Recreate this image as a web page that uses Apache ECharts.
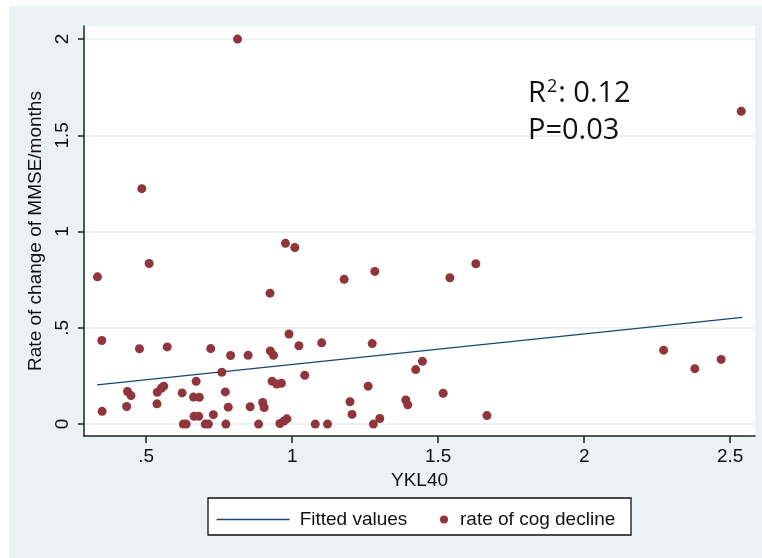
<!DOCTYPE html>
<html>
<head>
<meta charset="utf-8">
<script src="https://cdn.jsdelivr.net/npm/echarts@6/dist/echarts.min.js"></script>
<style>
html,body{margin:0;padding:0;background:#fff;}
#chart{width:762px;height:558px;}
</style>
</head>
<body>
<div id="chart"></div>
<script>
// Scatter points: YKL40 (x) vs rate of cognitive decline (y)
var pointsX = [0.813,2.538,0.485,0.510,0.333,0.977,1.009,1.178,1.283,1.540,1.629,0.924,
  0.348,0.477,0.572,0.721,0.789,0.849,0.925,0.936,0.989,1.023,1.101,1.274,
  0.759,0.671,1.043,0.931,0.947,0.963,1.260,1.423,1.446,2.272,2.379,2.469,
  1.517,1.667,0.436,0.448,0.433,0.349,0.538,0.552,0.560,0.537,0.623,0.662,
  0.682,0.771,0.781,0.856,0.899,0.904,0.664,0.680,0.730,0.627,0.637,0.702,
  0.713,0.773,0.885,0.958,0.972,0.982,1.079,1.121,1.198,1.205,1.278,1.300,
  1.389,1.396];
var pointsY = [2.000,1.625,1.223,0.834,0.765,0.939,0.917,0.752,0.793,0.760,0.833,0.680,
  0.434,0.391,0.401,0.392,0.356,0.357,0.380,0.357,0.468,0.407,0.422,0.418,
  0.269,0.222,0.253,0.223,0.208,0.212,0.197,0.283,0.326,0.384,0.288,0.336,
  0.160,0.044,0.169,0.148,0.091,0.066,0.165,0.186,0.197,0.105,0.162,0.140,
  0.139,0.167,0.088,0.090,0.112,0.086,0.040,0.040,0.049,0.000,0.000,0.000,
  0.000,0.000,0.000,0.003,0.016,0.027,0.000,0.000,0.116,0.050,0.000,0.029,
  0.125,0.100];
// Fitted values line (endpoints)
var fitX = [0.332, 2.542];
var fitY = [0.204, 0.554];
// Axis ticks
var xTicks = [0.5, 1, 1.5, 2, 2.5];
var xTickLabels = ['.5', '1', '1.5', '2', '2.5'];
var yTicks = [0, 0.5, 1, 1.5, 2];
var yTickLabels = ['0', '.5', '1', '1.5', '2'];
var seriesNames = ['Fitted values', 'rate of cog decline'];
var xTitle = 'YKL40';
var yTitle = 'Rate of change of MMSE/months';

var scatterData = pointsX.map(function (x, i) { return [x, pointsY[i]]; });
var fitData = fitX.map(function (x, i) { return [x, fitY[i]]; });

function labelFor(ticks, labels) {
  return function (v) {
    for (var i = 0; i < ticks.length; i++) {
      if (Math.abs(ticks[i] - v) < 1e-9) return labels[i];
    }
    return '';
  };
}

var FONT = '"Liberation Sans", Arial, sans-serif';
var TXT = '#111';

var chart = echarts.init(document.getElementById('chart'), null, {renderer: 'canvas'});
chart.setOption({
  backgroundColor: '#ffffff',
  animation: false,
  textStyle: {fontFamily: FONT},
  grid: {
    left: 84, top: 26, right: 7, bottom: 122,
    show: true, backgroundColor: '#ffffff', borderWidth: 0
  },
  xAxis: {
    type: 'value', min: 0.287, max: 2.585,
    name: xTitle, nameLocation: 'middle', nameGap: 30,
    nameTextStyle: {fontSize: 19, color: TXT, fontFamily: FONT},
    axisLine: {show: true, onZero: false, lineStyle: {color: '#222', width: 1.5}},
    axisTick: {show: true, length: 7, lineStyle: {color: '#222', width: 1.5}, customValues: xTicks},
    axisLabel: {fontSize: 19, color: TXT, margin: 11, fontFamily: FONT,
      customValues: xTicks, formatter: labelFor(xTicks, xTickLabels)},
    splitLine: {show: false}
  },
  yAxis: {
    type: 'value', min: -0.062, max: 2.068,
    name: yTitle, nameLocation: 'middle', nameGap: 36,
    nameTextStyle: {fontSize: 19, color: TXT, fontFamily: FONT},
    axisLine: {show: true, onZero: false, lineStyle: {color: '#222', width: 1.5}},
    axisTick: {show: true, length: 6, lineStyle: {color: '#222', width: 1.5}, customValues: yTicks},
    axisLabel: {fontSize: 19, color: TXT, margin: 12, rotate: 90, fontFamily: FONT,
      customValues: yTicks, formatter: labelFor(yTicks, yTickLabels)},
    splitLine: {show: true, lineStyle: {color: '#E6EFF0', width: 1.5}}
  },
  legend: [
    {
      data: [seriesNames[0]], left: 216, top: 510, padding: 0,
      itemWidth: 73, itemHeight: 14,
      itemStyle: {opacity: 0},
      lineStyle: {color: '#1A476F', width: 1.3, opacity: 1},
      textStyle: {fontSize: 19, color: TXT, fontFamily: FONT, padding: [0, 0, 0, 5]}
    },
    {
      data: [seriesNames[1]], left: 440, top: 510, padding: 0,
      itemWidth: 8, itemHeight: 8,
      textStyle: {fontSize: 19, color: TXT, fontFamily: FONT, padding: [0, 0, 0, 7]}
    }
  ],
  graphic: [
    {type: 'rect', z: -10, silent: true,
      shape: {x: 9, y: 6, width: 753, height: 552}, style: {fill: '#EAF2F3'}},
    {type: 'rect', z: 1, silent: true,
      shape: {x: 208, y: 498, width: 423, height: 37},
      style: {fill: '#ffffff', stroke: '#111', lineWidth: 1.3}},
    {type: 'text', left: 528, top: 78, z: 10, silent: true,
      style: {
        text: '{a|R}{s|2}{a|: 0.12}',
        rich: {
          a: {fontSize: 29, fontFamily: '"Open Sans", sans-serif', fill: '#111', lineHeight: 32},
          s: {fontSize: 18, fontFamily: '"Open Sans", sans-serif', fill: '#111', verticalAlign: 'top', lineHeight: 32, padding: [0, 1, 10, 1]}
        }
      }},
    {type: 'text', left: 528, top: 116, z: 10, silent: true,
      style: {text: 'P=0.03', fontSize: 29, fontFamily: '"Open Sans", sans-serif', fill: '#111'}}
  ],
  series: [
    {
      name: seriesNames[0], type: 'line', data: fitData,
      showSymbol: false, symbol: 'none',
      lineStyle: {color: '#1A476F', width: 1.3},
      itemStyle: {color: '#1A476F'}, z: 3
    },
    {
      name: seriesNames[1], type: 'scatter', data: scatterData,
      symbol: 'circle', symbolSize: 9,
      itemStyle: {color: '#90353B', opacity: 1}, z: 4
    }
  ]
});
</script>
</body>
</html>
